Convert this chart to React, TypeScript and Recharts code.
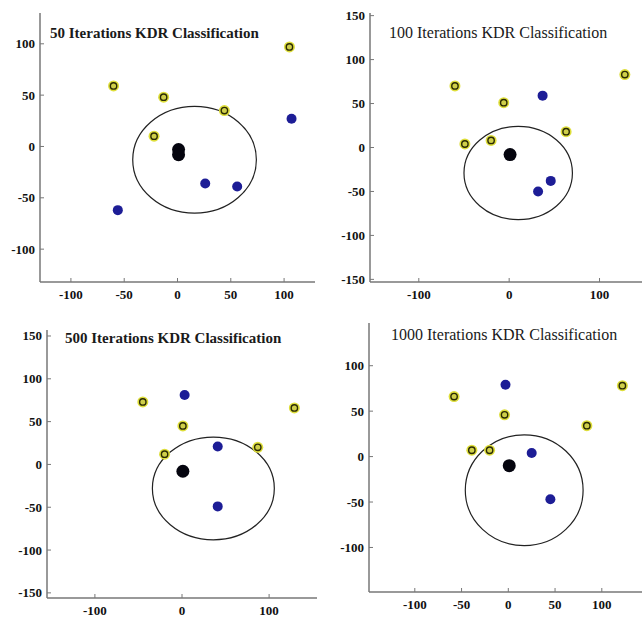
import React from "react";
import { ReferenceArea, Scatter, ScatterChart, XAxis, YAxis } from "recharts";

// class A (yellow rings), class B (blue dots), test point (black) per run
const yellow50 = [
  { x: 105, y: 97 },
  { x: -60, y: 59 },
  { x: -13, y: 48 },
  { x: 44, y: 35 },
  { x: -22, y: 10 },
];
const blue50 = [
  { x: 107, y: 27 },
  { x: 26, y: -36 },
  { x: 56, y: -39 },
  { x: -56, y: -62 },
];
const black50 = [
  { x: 1, y: -3 },
  { x: 1, y: -8 },
];

const yellow100 = [
  { x: 128, y: 83 },
  { x: -60, y: 70 },
  { x: -6, y: 51 },
  { x: 63, y: 18 },
  { x: -20, y: 8 },
  { x: -49, y: 4 },
];
const blue100 = [
  { x: 37, y: 59 },
  { x: 46, y: -38 },
  { x: 32, y: -50 },
];
const black100 = [{ x: 1, y: -8 }];

const yellow500 = [
  { x: -45, y: 73 },
  { x: 129, y: 66 },
  { x: 1, y: 45 },
  { x: 87, y: 20 },
  { x: -20, y: 12 },
];
const blue500 = [
  { x: 3, y: 81 },
  { x: 41, y: 21 },
  { x: 41, y: -49 },
];
const black500 = [{ x: 1, y: -8 }];

const yellow1000 = [
  { x: 122, y: 78 },
  { x: -58, y: 66 },
  { x: -4, y: 46 },
  { x: 84, y: 34 },
  { x: -39, y: 7 },
  { x: -20, y: 7 },
];
const blue1000 = [
  { x: -3, y: 79 },
  { x: 25, y: 4 },
  { x: 45, y: -47 },
];
const black1000 = [{ x: 1, y: -10 }];

// decision circle: centre and radii (data units)
const circle50 = { x: 16, y: -13, rx: 58, ry: 52 };
const circle100 = { x: 10, y: -29, rx: 60, ry: 53 };
const circle500 = { x: 36, y: -28, rx: 70, ry: 60 };
const circle1000 = { x: 17, y: -37, rx: 63, ry: 61 };

const titles = [
  "50 Iterations KDR Classification",
  "100 Iterations KDR Classification",
  "500 Iterations KDR Classification",
  "1000 Iterations KDR Classification",
];

const ticks50x = [-100, -50, 0, 50, 100];
const ticks50y = [-100, -50, 0, 50, 100];
const ticks100x = [-100, 0, 100];
const ticks100y = [-150, -100, -50, 0, 50, 100, 150];
const ticks500x = [-100, 0, 100];
const ticks500y = [-150, -100, -50, 0, 50, 100, 150];
const ticks1000x = [-100, -50, 0, 50, 100];
const ticks1000y = [-100, -50, 0, 50, 100];

const SERIF = '"Liberation Serif", "Times New Roman", serif';

const XTick = (p: any) => (
  <text
    x={p.x}
    y={p.y}
    dy={10}
    textAnchor="middle"
    fontFamily={SERIF}
    fontWeight={700}
    fontSize={13}
    fill="#111"
  >
    {p.payload.value}
  </text>
);
const YTick = (p: any) => (
  <text
    x={p.x}
    y={p.y}
    dy={4.5}
    textAnchor="end"
    fontFamily={SERIF}
    fontWeight={700}
    fontSize={13}
    fill="#111"
  >
    {p.payload.value}
  </text>
);

const YellowRing = (p: any) => (
  <g>
    <circle cx={p.cx} cy={p.cy} r={5.5} fill="#dede3a" />
    <circle cx={p.cx} cy={p.cy} r={3.2} fill="#cfcf4a" stroke="#2b2b05" strokeWidth={1.4} />
  </g>
);
const BlueDot = (p: any) => <circle cx={p.cx} cy={p.cy} r={5} fill="#1d1d96" />;
const BlackDot = (p: any) => <circle cx={p.cx} cy={p.cy} r={6.5} fill="#05050f" />;

const Ellipse = (p: any) => (
  <ellipse
    cx={p.x + p.width / 2}
    cy={p.y + p.height / 2}
    rx={Math.abs(p.width) / 2}
    ry={Math.abs(p.height) / 2}
    fill="none"
    stroke="#222"
    strokeWidth={1.2}
  />
);

type Panel = {
  left: number;
  top: number;
  width: number;
  height: number;
  yAxisW: number;
  xAxisH: number;
  xDomain: [number, number];
  yDomain: [number, number];
  xTicks: number[];
  yTicks: number[];
  yellow: { x: number; y: number }[];
  blue: { x: number; y: number }[];
  black: { x: number; y: number }[];
  circle: { x: number; y: number; rx: number; ry: number };
  title: string;
  titleX: number;
  titleY: number;
  titleBold: boolean;
};

// top = plot top - 10 (room for the top tick label)
const panels: Panel[] = [
  {
    left: 0, top: 3, width: 315, height: 307, yAxisW: 40, xAxisH: 28,
    xDomain: [-129, 129], yDomain: [-132, 130], xTicks: ticks50x, yTicks: ticks50y,
    yellow: yellow50, blue: blue50, black: black50, circle: circle50,
    title: titles[0], titleX: 50, titleY: 24, titleBold: true,
  },
  {
    left: 321, top: 3, width: 321, height: 307, yAxisW: 49, xAxisH: 28,
    xDomain: [-154, 147], yDomain: [-153, 153], xTicks: ticks100x, yTicks: ticks100y,
    yellow: yellow100, blue: blue100, black: black100, circle: circle100,
    title: titles[1], titleX: 389, titleY: 24, titleBold: false,
  },
  {
    left: 0, top: 320, width: 317, height: 300, yAxisW: 47, xAxisH: 22,
    xDomain: [-155, 155], yDomain: [-156, 157], xTicks: ticks500x, yTicks: ticks500y,
    yellow: yellow500, blue: blue500, black: black500, circle: circle500,
    title: titles[2], titleX: 65, titleY: 329, titleBold: true,
  },
  {
    left: 321, top: 313, width: 321, height: 307, yAxisW: 48, xAxisH: 28,
    xDomain: [-149, 143], yDomain: [-149, 147], xTicks: ticks1000x, yTicks: ticks1000y,
    yellow: yellow1000, blue: blue1000, black: black1000, circle: circle1000,
    title: titles[3], titleX: 391, titleY: 326, titleBold: false,
  },
];

function KdrPanel({ p }: { p: Panel }) {
  const c = p.circle;
  return (
    <div style={{ position: "absolute", left: p.left, top: p.top, fontFamily: SERIF }}>
      <ScatterChart
        width={p.width}
        height={p.height}
        margin={{ top: 10, right: 0, bottom: 0, left: 0 }}
      >
        <XAxis
          type="number"
          dataKey="x"
          domain={p.xDomain}
          ticks={p.xTicks}
          interval={0}
          allowDataOverflow
          height={p.xAxisH}
          tickSize={-4}
          tickMargin={11}
          tick={XTick}
          axisLine={{ stroke: "#777", strokeWidth: 1.5 }}
          tickLine={{ stroke: "#777" }}
        />
        <YAxis
          type="number"
          dataKey="y"
          domain={p.yDomain}
          ticks={p.yTicks}
          interval={0}
          allowDataOverflow
          width={p.yAxisW}
          tickSize={-4}
          tickMargin={9}
          tick={YTick}
          axisLine={{ stroke: "#777", strokeWidth: 1.5 }}
          tickLine={{ stroke: "#777" }}
        />
        <ReferenceArea
          x1={c.x - c.rx}
          x2={c.x + c.rx}
          y1={c.y - c.ry}
          y2={c.y + c.ry}
          ifOverflow="visible"
          shape={Ellipse}
        />
        <Scatter data={p.yellow} shape={YellowRing} isAnimationActive={false} />
        <Scatter data={p.blue} shape={BlueDot} isAnimationActive={false} />
        <Scatter data={p.black} shape={BlackDot} isAnimationActive={false} />
      </ScatterChart>
    </div>
  );
}

export default function App() {
  return (
    <div
      style={{
        position: "absolute",
        left: 0,
        top: 0,
        width: 642,
        height: 620,
        overflow: "hidden",
        background: "#fff",
      }}
    >
      {panels.map((p) => (
        <KdrPanel key={p.title} p={p} />
      ))}
      {panels.map((p) => (
        <div
          key={"t" + p.title}
          style={{
            position: "absolute",
            left: p.titleX,
            top: p.titleY,
            fontFamily: SERIF,
            fontWeight: p.titleBold ? 700 : 400,
            fontSize: p.titleBold ? 15 : 16,
            color: "#1a1a1a",
            whiteSpace: "nowrap",
            lineHeight: "18px",
          }}
        >
          {p.title}
        </div>
      ))}
    </div>
  );
}
